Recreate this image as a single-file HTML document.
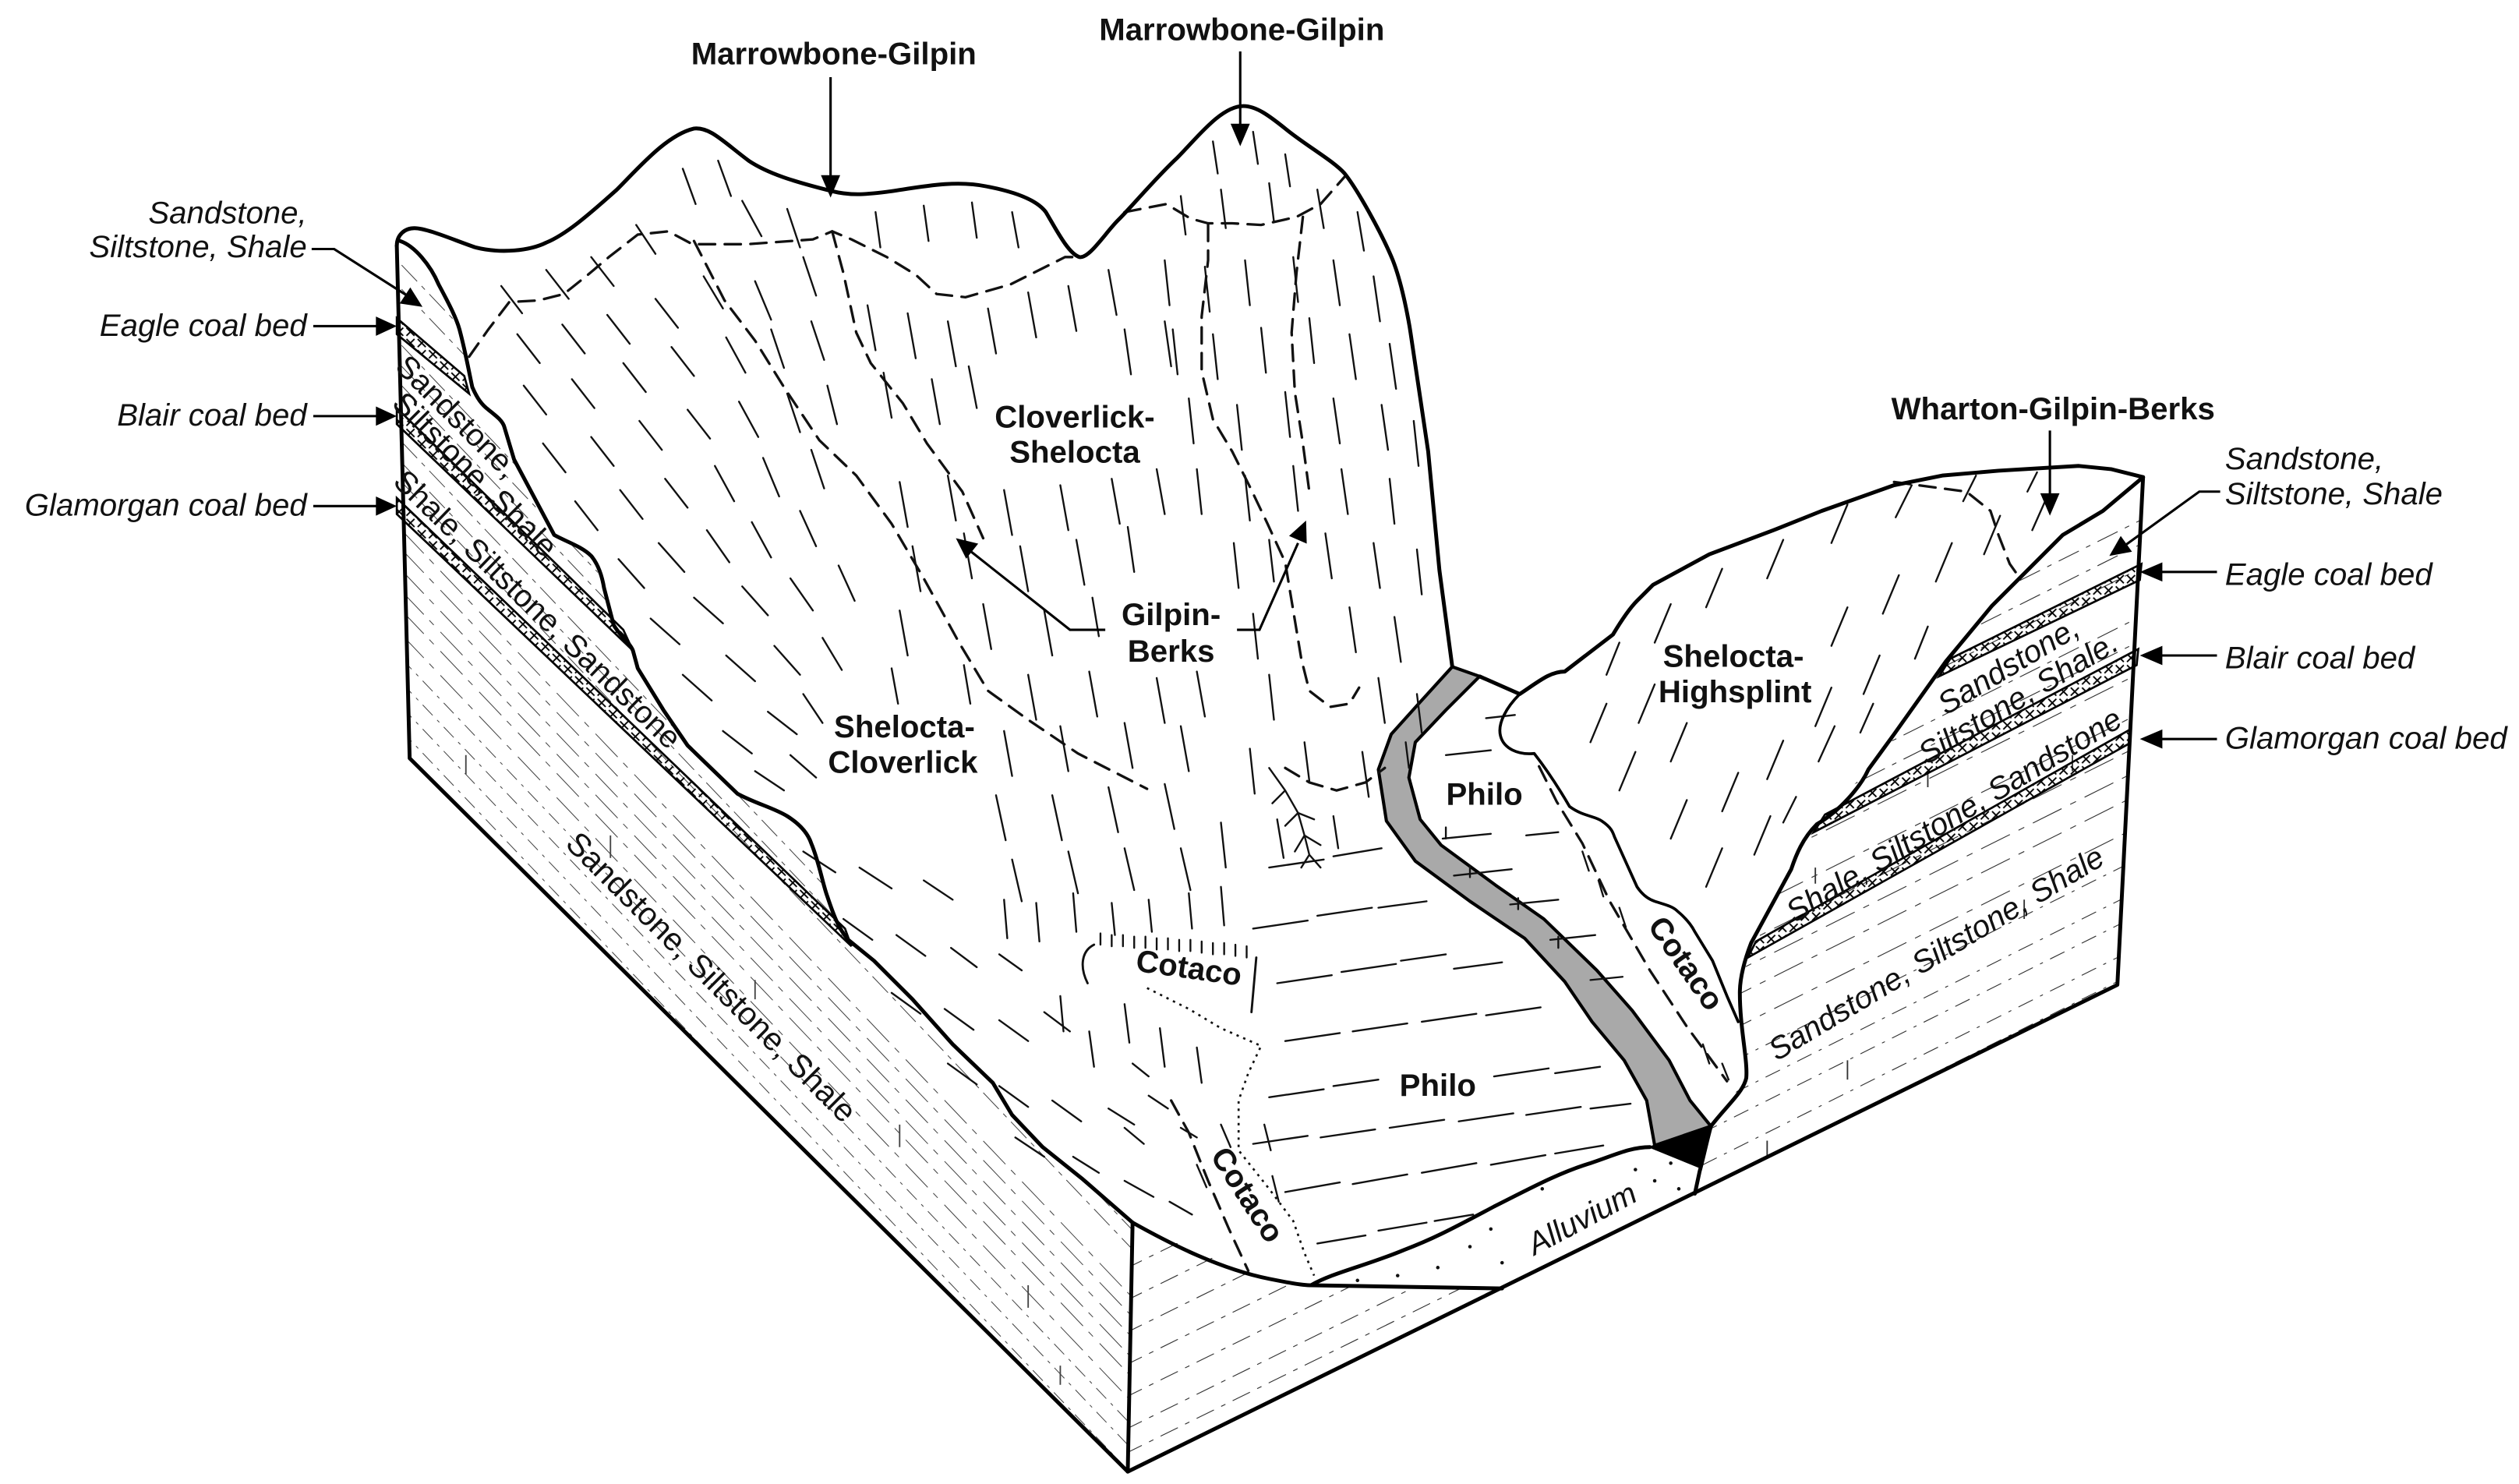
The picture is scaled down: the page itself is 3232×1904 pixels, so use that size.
<!DOCTYPE html>
<html>
<head>
<meta charset="utf-8">
<style>
html,body{margin:0;padding:0;background:#fff;width:3232px;height:1904px;overflow:hidden;}
svg{display:block;position:absolute;left:0;top:0;overflow:hidden;}
.b{font-family:"Liberation Sans",Arial,sans-serif;font-weight:bold;font-size:19.5px;fill:#111;}
.i{font-family:"Liberation Sans",Arial,sans-serif;font-style:italic;font-size:19.5px;fill:#111;}
.r{font-family:"Liberation Sans",Arial,sans-serif;font-size:19.5px;fill:#111;}
</style>
</head>
<body>
<svg width="3232" height="1904" viewBox="0 0 1568 923.7" overflow="hidden" xmlns="http://www.w3.org/2000/svg">
<defs>
<pattern id="xh" width="7" height="7" patternUnits="userSpaceOnUse">
<path d="M1,1 L6,6 M6,1 L1,6" stroke="#000" stroke-width="0.9"/>
</pattern>
<clipPath id="lf">
<path d="M247,153 L255,472 L702,916 L705,761 L674,734 L649,714 L630,694 L618,674 L593,650 L568,622 L544,598 L528,585 L515,558 L505,525 L490,508 L459,494 L428,464 L413,442 L397,416 L394,405 L382,389 L376,366 L368,346 L345,333 L320,286 L314,266 L304,255 L294,241 L286,205 L273,177 L249,150 Z"/>
</clipPath>
<clipPath id="rf">
<path d="M1334,297 L1318,613 L1055,743 L1058,729 L1065,701 L1087,671 L1083,618 L1090,587 L1115,541 L1131,513 L1163,479 L1179,457 L1211,412 L1240,377 L1262,355 L1284,333 L1309,318 Z"/>
</clipPath>
<clipPath id="wf">
<path d="M705,761 L742,778 L779,793 L816,800 L935,802 L702,916 Z"/>
</clipPath>
</defs>

<rect width="1568" height="923.7" fill="#fff"/>

<!-- face textures -->
<g clip-path="url(#lf)" stroke="#444" stroke-width="0.5" fill="none">
<path stroke-dasharray="14 4 3 4" d="M250,165 l500,525 M250,180 l500,525 M250,215 l500,525 M250,228 l500,525 M250,240 l500,525 M250,275 l500,525 M250,288 l500,525 M250,300 l500,525"/>
<path stroke-dasharray="20 5 4 6" d="M250,330 l500,525 M250,342 l500,525 M250,355 l500,525 M250,368 l500,525 M250,380 l500,525 M250,395 l494,519"/>
<path stroke-dasharray="9 4 2 4" d="M250,410 l480,504 M250,425 l466,489 M250,440 l452,475 M250,455 l438,460 M250,468 l426,447 M240,480 l414,434"/>
<path stroke-width="0.9" d="M290,470 l0,12 M380,520 l0,14 M470,610 l0,12 M560,700 l0,14 M640,800 l0,14 M520,760 l0,12 M420,640 l0,12 M660,850 l0,12"/>
</g>
<g clip-path="url(#rf)" stroke="#333" stroke-width="0.55" fill="none">
<path stroke-dasharray="14 5 3 5" d="M1040,430 l320,-160 M1040,445 l320,-160 M1040,470 l320,-160 M1040,485 l320,-160 M1040,500 l320,-160 M1040,530 l320,-160 M1040,545 l320,-160"/>
<path stroke-dasharray="20 6 4 6" d="M1040,565 l320,-160 M1040,590 l320,-160 M1040,610 l320,-160 M1040,625 l320,-160 M1040,640 l320,-160 M1040,660 l320,-160"/>
<path stroke-dasharray="10 5 2 5" d="M1040,680 l320,-160 M1040,700 l320,-160 M1040,715 l320,-160 M1040,735 l320,-160 M1040,750 l320,-160 M1040,765 l320,-160"/>
<path stroke-width="0.9" d="M1130,540 l0,10 M1200,480 l0,10 M1260,560 l0,12 M1150,660 l0,12 M1290,470 l0,10 M1100,710 l0,10"/>
</g>
<g clip-path="url(#wf)" stroke="#333" stroke-width="0.55" fill="none" stroke-dasharray="12 5 3 5">
<path d="M700,790 l260,-128 M700,810 l260,-128 M700,830 l260,-128 M700,850 l260,-128 M700,870 l260,-128 M700,890 l260,-128 M700,905 l260,-128"/>
</g>

<!-- coal bands -->
<g fill="url(#xh)" stroke="#000" stroke-width="1.3">
<polygon points="247,198 289,234 292,245 247,208"/>
<polygon points="247,254 388,392 394,405 247,264"/>
<polygon points="247,310 526,578 530,589 247,320"/>
<polygon points="1214,410 1333,351 1332,361 1207,421"/>
<polygon points="1136,507 1331,404 1330,414 1129,518"/>
<polygon points="1093,586 1326,454 1325,463 1088,596"/>
</g>

<!-- alluvium -->
<path d="M816,800 C830,792 850,788 874,778 C890,772 902,766 930,751 C950,741 970,730 990,724 C1005,719 1015,714 1027,714 L1059,727 L1055,743 L935,802 Z" fill="#fff" stroke="none"/>
<g fill="#111">
<circle cx="845" cy="797" r="1.1"/><circle cx="870" cy="794" r="1.1"/><circle cx="895" cy="789" r="1.1"/>
<circle cx="915" cy="776" r="1.1"/><circle cx="935" cy="786" r="1.1"/><circle cx="928" cy="765" r="1.1"/>
<circle cx="1030" cy="735" r="1.1"/><circle cx="1045" cy="740" r="1.1"/><circle cx="1040" cy="724" r="1.1"/>
<circle cx="1018" cy="728" r="1.1"/><circle cx="960" cy="740" r="1.1"/><circle cx="1050" cy="716" r="1.1"/>
</g>

<!-- river stripe -->
<path d="M904,415 L884,437 L866,457 L858,479 L863,511 L881,536 L915,561 L949,584 L974,611 L991,636 L1011,660 L1025,685 L1030,713 L1065,701 L1052,685 L1039,660 L1016,629 L994,604 L961,572 L931,551 L897,526 L884,510 L877,484 L881,462 L900,442 L921,421 Z" fill="#a9a9a9" stroke="#000" stroke-width="2" stroke-linejoin="round"/>
<polygon points="1027,714 1065,701 1059,727" fill="#000" stroke="#000" stroke-width="1"/>

<!-- hatching -->
<g stroke="#111" stroke-width="1.15" fill="none" stroke-linecap="round">
<path d="M312,178l13,17 M340,168l14,18 M368,160l14,18 M396,140l12,18 M425,105l8,22 M447,100l8,22 M462,125l12,22 M490,130l8,24
M322,208l14,18 M350,202l14,18 M378,196l14,18 M408,186l14,18 M438,172l12,20 M470,175l10,24 M500,160l8,24
M326,240l14,18 M356,236l14,18 M388,226l14,18 M418,216l14,18 M452,210l12,22 M480,205l8,24 M505,200l8,24
M338,276l14,18 M368,272l14,18 M398,262l14,18 M428,255l14,18 M460,250l12,22 M490,245l8,24 M515,240l6,24
M358,312l14,18 M386,305l14,18 M414,298l14,18 M445,290l12,22 M475,285l10,24 M505,280l8,24
M385,348l16,18 M410,338l16,18 M440,330l14,20 M468,325l12,22 M498,318l10,22
M405,385l18,16 M432,372l18,16 M462,365l16,18 M492,360l14,20 M522,352l10,22
M425,420l18,16 M452,408l18,16 M482,402l16,18 M512,397l12,20
M450,455l18,14 M478,443l18,14 M500,432l12,18 M470,480l18,12 M492,470l16,14"/>
<path d="M545,132l3,22 M575,128l3,22 M605,126l3,22 M630,132l4,22
M540,190l5,28 M565,195l5,28 M590,200l5,28 M615,192l5,28 M640,182l5,28 M665,178l5,28 M690,168l5,28
M550,232l5,28 M580,236l5,28 M603,228l5,26 M700,205l4,28 M725,200l4,28
M560,300l5,28 M590,296l5,28 M625,305l5,28 M660,302l5,28 M692,298l5,28 M720,292l5,28
M568,340l5,28 M600,332l5,28 M635,340l5,28 M670,336l5,28 M702,328l4,28
M560,380l5,28 M612,376l5,28 M650,380l5,28 M680,372l4,24
M555,416l4,22 M600,414l4,24 M640,420l5,28 M678,418l5,28 M720,422l5,28 M745,418l5,28
M625,455l5,28 M660,452l5,28 M700,450l5,28 M735,452l5,28
M620,495l6,28 M655,495l6,28 M690,490l6,28 M725,488l6,28
M630,535l6,26 M665,530l6,26 M700,528l6,26 M735,528l6,26"/>
<path d="M755,88l3,20 M780,82l3,20 M800,96l3,20
M735,122l3,24 M760,118l3,24 M790,114l3,24 M820,118l4,24 M845,132l4,24
M725,162l3,28 M750,166l3,28 M775,162l3,28 M805,160l3,28 M830,162l4,28 M855,172l4,28
M730,205l3,28 M755,208l3,28 M785,204l3,28 M815,198l3,28 M840,208l4,28 M865,214l4,28
M740,248l3,28 M770,252l3,28 M800,244l3,28 M830,248l4,28 M860,252l4,28 M880,262l3,28
M745,292l3,28 M775,296l3,28 M805,290l3,28 M835,292l4,28 M865,298l3,28
M768,338l3,28 M790,336l3,26 M825,332l4,28 M855,338l4,28 M882,342l3,28
M780,382l3,28 M840,378l4,28 M868,384l4,28
M790,420l3,28 M858,422l4,28 M882,432l3,24
M778,466l3,28 M812,462l3,24 M848,468l4,28 M875,462l2,16
M760,512l3,28 M795,510l4,24 M830,508l3,20"/>
<path d="M500,530l20,13 M535,540l20,13 M575,548l18,12
M525,572l18,13 M558,582l18,13 M592,590l16,12 M622,594l14,10
M555,618l18,13 M588,628l18,13 M622,635l18,13 M650,630l16,12
M590,662l18,13 M622,676l18,13 M655,685l18,13 M690,690l16,10
M632,708l18,12 M668,720l16,10 M700,735l18,10 M728,748l14,8
M625,560l2,24 M645,562l2,24 M668,556l2,24 M692,562l2,20 M715,560l2,20 M740,556l2,22 M760,552l2,24
M700,625l3,24 M722,640l3,24 M745,652l3,22 M660,620l2,22 M678,642l3,22
M705,662l10,8 M715,682l12,8 M735,702l10,6 M700,702l12,10 M760,700l6,14 M787,700l4,16 M792,732l4,16 M745,725l6,14"/>
<path d="M790,540l34,-5 M830,533l30,-5
M780,578l34,-5 M820,570l34,-5 M858,565l30,-4
M795,612l34,-5 M835,605l34,-5 M872,598l28,-4 M905,603l30,-4
M800,648l34,-5 M842,642l34,-5 M885,636l34,-5 M925,632l34,-5
M790,683l34,-5 M830,676l28,-4 M930,670l34,-5 M968,668l28,-4
M780,712l34,-5 M822,708l34,-5 M865,702l34,-5 M908,698l34,-5 M950,694l34,-5 M990,690l25,-3
M800,742l34,-6 M842,737l34,-6 M885,730l34,-6 M928,725l34,-6 M968,718l30,-5
M820,774l30,-5 M858,766l30,-5 M893,760l24,-4
M925,447l18,-2 M900,470l28,-3 M898,522l30,-3 M905,545l36,-4 M940,563l30,-3 M965,585l28,-3 M990,610l20,-2 M950,520l20,-2
M900,522l0,-7 M915,546l0,-7 M945,566l0,-7 M970,590l0,-7"/>
<path d="M1000,420l8,-20 M1030,400l10,-24 M1062,378l10,-24 M1100,360l10,-24 M1140,338l10,-24 M1180,322l10,-20 M1222,312l8,-16 M1262,306l6,-12
M990,462l10,-24 M1020,450l10,-24 M1140,402l10,-24 M1172,382l10,-24 M1205,362l10,-24 M1235,345l10,-24 M1265,330l8,-18
M1008,492l10,-24 M1040,474l10,-24 M1130,452l10,-24 M1160,432l10,-24 M1192,410l8,-20
M1040,522l10,-24 M1072,505l10,-24 M1100,485l10,-24 M1132,474l10,-22 M1158,456l8,-18
M1062,552l10,-24 M1092,532l10,-24 M1110,512l8,-16
M985,530l4,12 M1008,565l4,12 M1060,650l4,12 M1072,662l4,10 M995,548l3,10"/>
<!-- drainage -->
<path d="M790,478 L800,492 L808,506 L812,520 L815,532 M800,492 L792,500 M808,506 L800,514 M808,506 L818,510 M812,520 L806,530 M812,520 L822,526 M815,532 L810,540 M815,532 L822,540"/>
<!-- Cotaco ticks -->
<path d="M685,588l0,-7 M692,589l0,-7 M699,589l0,-7 M706,590l0,-7 M713,590l0,-7 M720,591l0,-7 M727,591l0,-7 M734,592l0,-7 M741,592l0,-7 M748,593l0,-7 M755,594l0,-7 M762,594l0,-7 M769,595l0,-7 M776,596l0,-7"/>
<path stroke-width="1.4" d="M677,612 C672,602 673,592 681,588 M782,596 L779,630"/>
</g>

<!-- dashed boundaries -->
<g stroke="#111" stroke-width="1.6" fill="none" stroke-dasharray="10 6" stroke-linecap="round">
<path d="M292,222 L304,205 L317,188 L335,187 L351,183 L366,171 L379,160 L397,146 L416,144 L431,152 L444,152 L465,152 L506,149 L518,144 L530,149 L552,160 L570,171 L583,183 L601,185 L629,177 L663,160 L674,160"/>
<path d="M700,132 L726,127 L741,136 L752,139 L767,139 L785,140 L807,135 L822,127 L837,110"/>
<path d="M432,150 L451,187 L470,212 L488,241 L510,274 L533,296 L555,326 L575,360 L597,400 L615,430 L640,448 L671,469 L714,491"/>
<path d="M518,144 L525,170 L533,207 L542,226 L562,251 L577,276 L599,306 L612,335"/>
<path d="M752,140 L752,162 L748,197 L748,231 L755,261 L767,281 L778,303 L789,326 L800,350 L805,380 L810,410 L815,430 L828,440 L840,438 L846,428"/>
<path d="M811,135 L807,170 L804,207 L806,244 L811,276 L815,306"/>
<path d="M800,478 L815,487 L832,492 L850,487 L862,478"/>
<path d="M958,477 L969,499 L985,525 L1002,561 L1027,604 L1050,639 L1075,673"/>
<path d="M729,685 L740,705 L752,735 L765,765 L777,791"/>
<path d="M1179,300 L1224,306 L1239,318 L1244,333 L1251,351 L1256,358"/>
</g>
<path d="M714,615 L740,628 L760,640 L785,651 L777,668 L771,685 L771,716 L790,740 L805,760 L812,780 L818,794" stroke="#111" stroke-width="1.3" fill="none" stroke-dasharray="1.5 3"/>

<!-- main outlines -->
<g stroke="#000" stroke-width="2.4" fill="none" stroke-linejoin="round" stroke-linecap="round">
<path d="M247,153 C247,146 252,142 258,142 C266,142 284,150 296,154 C312,158 330,156 340,151 C352,146 365,135 384,118 C398,104 415,84 432,80 C442,79 450,88 466,100 C478,108 494,113 518,119 C530,122 540,121 555,119 C575,116 595,112 614,116 C630,119 645,124 651,132 C657,142 665,158 672,160 C678,161 688,145 696,137 C705,128 720,110 733,98 C745,86 760,66 774,66 C782,66 790,72 800,80 C812,90 830,100 837,108 C845,118 860,145 867,162 C874,180 878,207 878,207 L889,281 L896,355 L904,415"/>
<path d="M249,150 C258,153 268,165 273,177 C280,190 284,198 286,205 C290,220 292,232 294,241 C297,248 300,252 304,255 C309,259 313,262 314,266 L320,286 L345,333 C352,337 362,340 368,346 C373,352 375,360 376,366 L382,389 C386,396 392,400 394,405 L397,416 L413,442 L428,464 L459,494 C470,500 482,503 490,508 C498,513 503,519 505,525 C510,537 512,550 515,558 C519,570 522,578 528,585 L544,598 L568,622 L593,650 L618,674 L630,694 L649,714 L674,734 L705,761"/>
<path d="M247,153 L255,472 L702,916 L1318,613 L1334,297"/>
<path d="M705,761 L702,916"/>
<path d="M705,761 C730,775 760,790 790,796 C800,798 810,800 816,800 L935,802"/>
<path d="M816,800 C830,792 850,788 874,778 C890,772 902,766 930,751 C950,741 970,730 990,724 C1005,719 1015,714 1027,714"/>
<path d="M1334,297 L1309,318 L1284,333 L1262,355 L1240,377 L1211,412 L1179,457 L1163,479 C1158,490 1145,505 1131,513 C1122,522 1118,532 1115,541 L1090,587 C1085,600 1083,610 1083,618 C1083,640 1088,660 1087,671 C1085,680 1075,688 1065,701 C1062,712 1060,722 1058,729 L1055,743"/>
<path d="M921,421 L946,432 C958,424 965,418 974,418 L1004,395 C1010,385 1015,378 1019,374 L1029,364 L1064,345 L1104,330 L1134,318 L1179,302 L1209,296 L1244,293 L1294,290 L1314,292 L1334,297"/>
<path stroke-width="1.8" d="M946,432 C938,440 932,450 934,458 C936,466 945,470 955,469 C962,478 970,490 977,502 C985,508 993,508 997,511 C1003,515 1004,518 1005,521 L1019,552 C1023,558 1027,560 1030,561 C1036,563 1041,564 1044,567 C1050,572 1053,576 1055,580 L1066,598 L1075,620 L1082,636"/>
</g>

<!-- arrows & leaders -->
<g stroke="#000" stroke-width="1.5" fill="none">
<path d="M195,203 L236,203 M195,259 L236,259 M195,315 L236,315"/>
<path d="M194,155 L208,155 L255,185"/>
<path d="M517,48 L517,110 M772,32 L772,78"/>
<path d="M688,392 L666,392 L604,343 M770,392 L784,392 L808,338"/>
<path d="M1276,268 L1276,308"/>
<path d="M1380,356 L1344,356 M1380,408 L1344,408 M1380,460 L1344,460"/>
<path d="M1382,306 L1369,306 L1322,340"/>
</g>
<g fill="#000">
<polygon points="247,203 234,197 234,209"/>
<polygon points="247,259 234,253 234,265"/>
<polygon points="247,315 234,309 234,321"/>
<polygon points="263,191 248.8,188.9 255.4,178.9"/>
<polygon points="517,123 511,109 523,109"/>
<polygon points="772,91 766,77 778,77"/>
<polygon points="595,335 608.9,338.4 601.4,347.8"/>
<polygon points="813,324 813.4,338.4 802.4,333.6"/>
<polygon points="1276,321 1270,307 1282,307"/>
<polygon points="1332,356 1346,350 1346,362"/>
<polygon points="1332,408 1346,402 1346,414"/>
<polygon points="1332,460 1346,454 1346,466"/>
<polygon points="1313,346 1320.1,333.6 1327.1,343.4"/>
</g>

<!-- labels -->
<g class="i" text-anchor="end">
<text x="191" y="139">Sandstone,</text>
<text x="191" y="160">Siltstone, Shale</text>
<text x="191" y="209">Eagle coal bed</text>
<text x="191" y="265">Blair coal bed</text>
<text x="191" y="321">Glamorgan coal bed</text>
</g>
<g class="i">
<text x="1385" y="292">Sandstone,</text>
<text x="1385" y="314">Siltstone, Shale</text>
<text x="1385" y="364">Eagle coal bed</text>
<text x="1385" y="416">Blair coal bed</text>
<text x="1385" y="466">Glamorgan coal bed</text>
</g>
<g class="b" text-anchor="middle">
<text x="519" y="40">Marrowbone-Gilpin</text>
<text x="773" y="25">Marrowbone-Gilpin</text>
<text x="1278" y="261">Wharton-Gilpin-Berks</text>
<text x="669" y="266">Cloverlick-</text>
<text x="669" y="288">Shelocta</text>
<text x="729" y="389">Gilpin-</text>
<text x="729" y="412">Berks</text>
<text x="563" y="459">Shelocta-</text>
<text x="562" y="481">Cloverlick</text>
<text x="1079" y="415">Shelocta-</text>
<text x="1080" y="437">Highsplint</text>
<text x="924" y="501">Philo</text>
<text x="895" y="682">Philo</text>
<text x="740" y="609" transform="rotate(8 740 603)">Cotaco</text>
<text x="776" y="750" transform="rotate(57 776 744)">Cotaco</text>
<text x="1049" y="606" transform="rotate(55 1049 600)">Cotaco</text>
</g>
<text class="i" x="985" y="765" text-anchor="middle" font-size="18" transform="rotate(-28 985 759)">Alluvium</text>

<g class="r" text-anchor="middle">
<text x="280" y="264" transform="rotate(45 280 264)">Sandstone,</text>
<text x="291" y="300" transform="rotate(45 291 300)">Siltstone, Shale</text>
<text x="330" y="384" transform="rotate(44 330 384)">Shale, Siltstone, Sandstone</text>
<text x="438" y="613" transform="rotate(45 438 613)" font-size="20">Sandstone, Siltstone, Shale</text>
</g>
<g class="i" text-anchor="middle" font-size="20">
<text x="1253.6" y="420" transform="rotate(-31 1253.6 420)">Sandstone,</text>
<text x="1259.6" y="440" transform="rotate(-31 1259.6 440)">Siltstone, Shale.</text>
<text x="1219.6" y="513" transform="rotate(-31 1219.6 513)">Shale, Siltstone, Sandstone</text>
<text x="1208.6" y="599" transform="rotate(-31 1208.6 599)">Sandstone, Siltstone, Shale</text>
</g>
</svg>
</body>
</html>
